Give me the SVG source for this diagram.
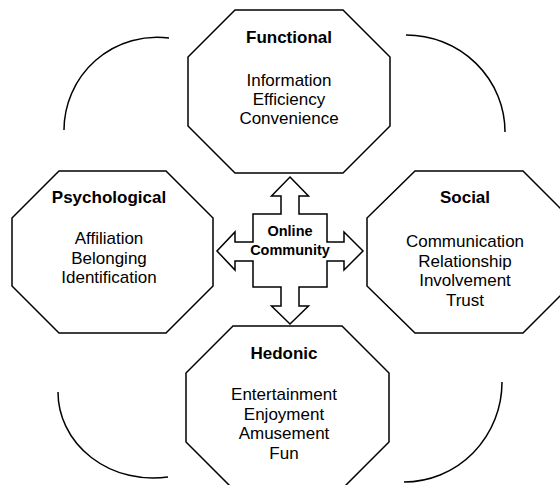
<svg xmlns="http://www.w3.org/2000/svg" width="560" height="485" viewBox="0 0 560 485">
<style>
.oct{fill:#fff;stroke:#000;stroke-width:1.5;stroke-linejoin:miter}
.arc{fill:none;stroke:#000;stroke-width:1.5}
.t{font-family:"Liberation Sans",Arial,sans-serif;font-size:17px;font-weight:bold;text-anchor:middle;fill:#000}
.b{font-family:"Liberation Sans",Arial,sans-serif;font-size:17px;text-anchor:middle;fill:#000}
.c{font-family:"Liberation Sans",Arial,sans-serif;font-size:14.5px;font-weight:bold;text-anchor:middle;fill:#000}
</style>
<rect width="560" height="485" fill="#fff"/>
<g id="connectors">
<path class="arc" d="M64,130 A93,93 0 0,1 169,38"/>
<path class="arc" d="M406,35 A99,97 0 0,1 505,132"/>
<path class="arc" d="M502,382 A98,100 0 0,1 404,482"/>
<path class="arc" d="M58,392 A95,86 0 0,0 168,477"/>
</g>
<g id="functional">
<polygon class="oct" points="235,10 343,10 390,57 390,126 343,173 235,173 188,126 188,57"/>
<text class="t" x="289" y="43">Functional</text>
<text class="b" x="289" y="86">Information</text>
<text class="b" x="289" y="105">Efficiency</text>
<text class="b" x="289" y="124">Convenience</text>
</g>
<g id="psychological">
<polygon class="oct" points="59,171 166,171 213,218 213,286 166,333 59,333 12,286 12,218"/>
<text class="t" x="109" y="203">Psychological</text>
<text class="b" x="109" y="244">Affiliation</text>
<text class="b" x="109" y="263.5">Belonging</text>
<text class="b" x="109" y="283">Identification</text>
</g>
<g id="social">
<polygon class="oct" points="415,171 523,171 570,218 570,286 523,333 415,333 367,286 367,218"/>
<text class="t" x="465" y="203">Social</text>
<text class="b" x="465" y="247">Communication</text>
<text class="b" x="465" y="266.5">Relationship</text>
<text class="b" x="465" y="286">Involvement</text>
<text class="b" x="465" y="305.5">Trust</text>
</g>
<g id="hedonic">
<polygon class="oct" points="233,326 342,326 389,373 389,442 342,489 233,489 186,442 186,373"/>
<text class="t" x="284" y="359">Hedonic</text>
<text class="b" x="284" y="400">Entertainment</text>
<text class="b" x="284" y="419.5">Enjoyment</text>
<text class="b" x="284" y="439">Amusement</text>
<text class="b" x="284" y="458.5">Fun</text>
</g>
<g id="online-community">
<polygon class="oct" points="290,177 308.5,196 299,196 299,214 327,214 327,242 344,242 344,232 363,251 344,270 344,261 327,261 327,287 299,287 299,306 308.5,306 290,324 271.5,306 281,306 281,287 253,287 253,261 235,261 235,270 217,251 235,232 235,242 253,242 253,214 281,214 281,196 271.5,196"/>
<text class="c" x="290" y="236">Online</text>
<text class="c" x="290" y="255">Community</text>
</g>
</svg>
